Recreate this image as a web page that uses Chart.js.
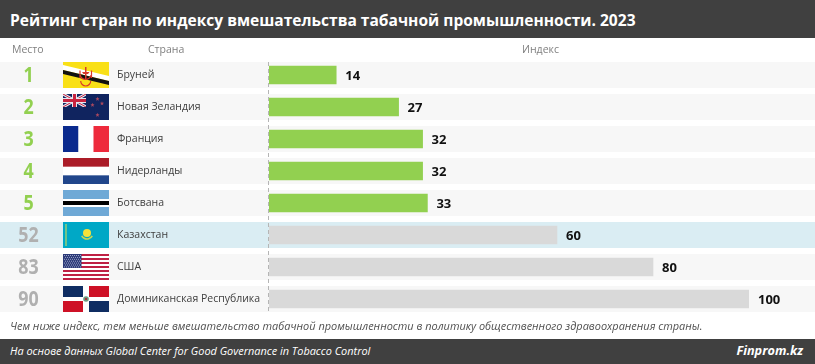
<!DOCTYPE html>
<html lang="ru">
<head>
<meta charset="utf-8">
<script src="https://cdn.jsdelivr.net/npm/chart.js@4"></script>
<style>
  html, body { margin: 0; padding: 0; background: #fff; }
  #wrap { position: relative; width: 815px; height: 364px; overflow: hidden; font-family: "Open Sans", sans-serif; }
  #wrap canvas { position: absolute; left: 0; top: 0; }
  .band { position: absolute; left: 0; width: 815px; background: #404040; color: #fff; }
  .txt { position: absolute; white-space: nowrap; }
</style>
</head>
<body>
<div id="wrap">
  <canvas id="chart" width="815" height="364"></canvas>
  <div class="band" style="top:0;height:38px"></div>
  <div class="txt" style="left:10px;top:8px;font-size:15.55px;font-weight:700;color:#fff;line-height:24px">Рейтинг стран по индексу вмешательства табачной промышленности. 2023</div>
  <div class="txt" style="left:12px;top:41px;font-size:10.5px;color:#808080;line-height:16px">Место</div>
  <div class="txt" style="left:148px;top:41px;font-size:10.5px;color:#808080;line-height:16px">Страна</div>
  <div class="txt" style="left:522px;top:41px;font-size:10.5px;color:#808080;line-height:16px">Индекс</div>
  <div class="txt" style="left:10px;top:318px;font-size:10.96px;font-style:italic;color:#505050;line-height:16px">Чем ниже индекс, тем меньше вмешательство табачной промышленности в политику общественного здравоохранения страны.</div>
  <div class="band" style="top:339px;height:25px"></div>
  <div class="txt" style="left:10px;top:343px;font-size:10.92px;font-style:italic;color:#fff;line-height:16px">На основе данных Global Center for Good Governance in Tobacco Control</div>
  <div class="txt" style="right:12px;top:342px;font-size:12.7px;font-weight:700;font-style:italic;color:#fff;line-height:17px">Finprom.kz</div>
</div>
<script>
// Данные рейтинга
const countries = ["Бруней", "Новая Зеландия", "Франция", "Нидерланды", "Ботсвана", "Казахстан", "США", "Доминиканская Республика"];
const ranks = [1, 2, 3, 4, 5, 52, 83, 90];
const indexValues = [14, 27, 32, 32, 33, 60, 80, 100];
const flagCodes = ["bn", "nz", "fr", "nl", "bw", "kz", "us", "do"];

const GREEN = "#92d050";
const GREY = "#d9d9d9";
const TOP_COUNT = 5;
const KZ_ROW = 5;

function stripes(c, w, h, colors) {
    colors.forEach((col, i) => {
        c.fillStyle = col;
        c.fillRect(0, h * i / colors.length, w, h / colors.length + 0.5);
    });
}

function star(c, x, y, r, col) {
    c.fillStyle = col;
    c.beginPath();
    for (let i = 0; i < 10; i++) {
        const a = -Math.PI / 2 + i * Math.PI / 5;
        const rr = i % 2 ? r * 0.45 : r;
        c.lineTo(x + rr * Math.cos(a), y + rr * Math.sin(a));
    }
    c.closePath();
    c.fill();
}

// Флаги рисуем в коробке w x h
const flags = {
    bn(c, w, h) {
        c.fillStyle = "#f9e017";
        c.fillRect(0, 0, w, h);
        c.fillStyle = "#ffffff";
        c.beginPath(); c.moveTo(0, 3); c.lineTo(w, 14); c.lineTo(w, 19); c.lineTo(0, 8); c.closePath(); c.fill();
        c.fillStyle = "#111111";
        c.beginPath(); c.moveTo(0, 8); c.lineTo(w, 19); c.lineTo(w, 23); c.lineTo(0, 12); c.closePath(); c.fill();
        // герб
        c.strokeStyle = "#d8382c";
        c.fillStyle = "#d8382c";
        c.lineWidth = 1.2;
        c.fillRect(22, 5, 1.5, 5);
        c.beginPath(); c.moveTo(19, 10); c.lineTo(26.5, 10); c.lineTo(25, 12); c.lineTo(20.5, 12); c.closePath(); c.fill();
        c.fillRect(22, 12, 1.5, 6);
        c.beginPath(); c.arc(22.7, 12, 5.5, 0.2, Math.PI - 0.2); c.stroke();
        c.beginPath(); c.moveTo(17, 8.5); c.lineTo(17, 16); c.moveTo(28.5, 8.5); c.lineTo(28.5, 16); c.stroke();
        c.beginPath(); c.arc(22.7, 19, 5, Math.PI, 0, true); c.stroke();
    },
    nz(c, w, h) {
        c.fillStyle = "#10245f";
        c.fillRect(0, 0, w, h);
        const cw = 23, ch = 13;
        c.save();
        c.beginPath(); c.rect(0, 0, cw, ch); c.clip();
        c.strokeStyle = "#e6e8f0"; c.lineWidth = 3;
        c.beginPath(); c.moveTo(0, 0); c.lineTo(cw, ch); c.moveTo(cw, 0); c.lineTo(0, ch); c.stroke();
        c.strokeStyle = "#c8233f"; c.lineWidth = 1;
        c.beginPath(); c.moveTo(0, 0); c.lineTo(cw, ch); c.moveTo(cw, 0); c.lineTo(0, ch); c.stroke();
        c.fillStyle = "#e6e8f0";
        c.fillRect(cw / 2 - 2.5, 0, 5, ch); c.fillRect(0, ch / 2 - 2.5, cw, 5);
        c.fillStyle = "#c8233f";
        c.fillRect(cw / 2 - 1.5, 0, 3, ch); c.fillRect(0, ch / 2 - 1.5, cw, 3);
        c.restore();
        star(c, 34.5, 5, 2.2, "#a8475f");
        star(c, 29.5, 11, 2.2, "#a8475f");
        star(c, 39, 9.5, 2.2, "#a8475f");
        star(c, 34.5, 21, 2.2, "#a8475f");
    },
    fr(c, w, h) {
        c.fillStyle = "#0a2a8e"; c.fillRect(0, 0, 15.5, h);
        c.fillStyle = "#ffffff"; c.fillRect(15.5, 0, 15, h);
        c.fillStyle = "#ee2a3c"; c.fillRect(30.5, 0, 15.5, h);
    },
    nl(c, w, h) {
        stripes(c, w, h, ["#ab1c28", "#ffffff", "#21468b"]);
    },
    bw(c, w, h) {
        c.fillStyle = "#6fa9d6"; c.fillRect(0, 0, w, h);
        c.fillStyle = "#ffffff"; c.fillRect(0, 9, w, 8);
        c.fillStyle = "#000000"; c.fillRect(0, 11, w, 4);
    },
    kz(c, w, h) {
        c.fillStyle = "#00a8c6"; c.fillRect(0, 0, w, h);
        c.fillStyle = "#6fc48a"; c.fillRect(2, 2, 2, h - 4);
        c.fillStyle = "#f5e23a";
        c.beginPath(); c.arc(24, 11, 4, 0, Math.PI * 2); c.fill();
        c.strokeStyle = "#c8d850"; c.lineWidth = 1.6;
        c.beginPath(); c.arc(24, 11, 6, 0.5, Math.PI - 0.5); c.stroke();
    },
    us(c, w, h) {
        for (let i = 0; i < 13; i++) {
            c.fillStyle = i % 2 ? "#ffffff" : "#bf2044";
            c.fillRect(0, h * i / 13, w, h / 13 + 0.3);
        }
        c.fillStyle = "#2c3a78"; c.fillRect(0, 0, 18.5, 14);
        c.fillStyle = "#9aa3c8";
        for (let r = 0; r < 7; r++) {
            for (let k = 0; k < 9; k++) {
                c.fillRect(1 + k * 2 + (r % 2), 1 + r * 1.9, 1, 1);
            }
        }
    },
    do(c, w, h) {
        c.fillStyle = "#ffffff"; c.fillRect(0, 0, w, h);
        c.fillStyle = "#0f2d62"; c.fillRect(0, 0, 20, 11); c.fillRect(26, 15, 20, 11);
        c.fillStyle = "#ce1126"; c.fillRect(26, 0, 20, 11); c.fillRect(0, 15, 20, 11);
        c.fillStyle = "#6f9a80";
        c.beginPath(); c.arc(23, 13, 2.8, 0, Math.PI * 2); c.fill();
        c.fillStyle = "#a8343c"; c.fillRect(22, 12, 2, 2);
    }
};

// Полосы строк, ранги, флаги, пунктир и подписи значений
const rowDecor = {
    id: "rowDecor",
    beforeDraw(chart) {
        const c = chart.ctx;
        const y = chart.scales.y;
        const left = chart.chartArea.left;
        countries.forEach((name, i) => {
            const cy = y.getPixelForValue(i);
            c.fillStyle = i === KZ_ROW ? "#daedf3" : "#f7f7f7";
            c.fillRect(0, cy - 13, chart.width, 26);
        });
        c.save();
        c.strokeStyle = "#b5b5b5";
        c.lineWidth = 1;
        c.setLineDash([4, 3]);
        c.beginPath();
        c.moveTo(left - 0.5, y.getPixelForValue(0) - 13);
        c.lineTo(left - 0.5, y.getPixelForValue(countries.length - 1) + 13);
        c.stroke();
        c.restore();
    },
    afterDatasetsDraw(chart) {
        const c = chart.ctx;
        const y = chart.scales.y;
        const x = chart.scales.x;
        countries.forEach((name, i) => {
            const cy = y.getPixelForValue(i);
            c.save();
            c.translate(63, cy - 13);
            c.beginPath(); c.rect(0, 0, 46, 26); c.clip();
            flags[flagCodes[i]](c, 46, 26);
            c.restore();

            c.textBaseline = "middle";
            c.textAlign = "center";
            c.font = "700 21px 'Open Sans', sans-serif";
            c.fillStyle = i < TOP_COUNT ? GREEN : "#b0b0b0";
            c.save();
            c.translate(28.5, cy + 1);
            c.scale(0.85, 1);
            c.fillText(String(ranks[i]), 0, 0);
            c.restore();

            c.textAlign = "left";
            c.font = "700 13px 'Open Sans', sans-serif";
            c.fillStyle = "#111111";
            c.fillText(String(indexValues[i]), x.getPixelForValue(indexValues[i]) + 9, cy + 1);
        });
    }
};

new Chart(document.getElementById("chart"), {
    type: "bar",
    data: {
        labels: countries,
        datasets: [{
            data: indexValues,
            backgroundColor: ctx => ctx.dataIndex < TOP_COUNT ? GREEN : GREY,
            borderWidth: 0,
            barThickness: 18
        }]
    },
    options: {
        indexAxis: "y",
        responsive: false,
        animation: false,
        layout: { padding: { left: 117, right: 66, top: 59, bottom: 49 } },
        plugins: { legend: { display: false }, tooltip: { enabled: false } },
        scales: {
            x: { min: 0, max: 100, display: false },
            y: {
                afterFit(scale) { scale.width = 152; },
                grid: { display: false },
                border: { display: false },
                ticks: {
                    crossAlign: "far",
                    padding: 0,
                    autoSkip: false,
                    color: "#404040",
                    font: { family: "'Open Sans', sans-serif", size: 10.5 }
                }
            }
        }
    },
    plugins: [rowDecor]
});
</script>
</body>
</html>
